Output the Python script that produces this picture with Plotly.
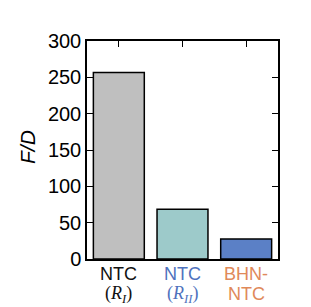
import plotly.graph_objects as go

categories = ["NTC (RI)", "NTC (RII)", "BHN-NTC"]
values = [256.5, 68.5, 27.5]
bar_colors = ["#bfbfbf", "#9dcaca", "#5b80c6"]
label_colors = ["#111111", "#4f72bd", "#e0895a"]
label_line1 = ["NTC", "NTC", "BHN-"]
label_line2 = [
    "<span style='font-family:Liberation Serif'>(<i>R</i><sub><i>I</i></sub>)</span>",
    "<span style='font-family:Liberation Serif'>(<i>R</i><sub><i>II</i></sub>)</span>",
    "NTC",
]
y_ticks = [0, 50, 100, 150, 200, 250, 300]

fig = go.Figure(go.Bar(
    x=categories, y=values,
    marker=dict(color=bar_colors, line=dict(color="black", width=1.5)),
    width=0.8,
))

for cat, l1, l2, col in zip(categories, label_line1, label_line2, label_colors):
    fig.add_annotation(x=cat, xref="x", y=0, yref="paper", text=l1,
                       showarrow=False, yanchor="middle", yshift=-15, borderpad=0,
                       font=dict(size=18, color=col))
    fig.add_annotation(x=cat, xref="x", y=0, yref="paper", text=l2,
                       showarrow=False, yanchor="middle", yshift=-35, borderpad=0,
                       font=dict(size=18, color=col))

fig.add_annotation(x=0, xref="paper", y=0.5, yref="paper", text="<i>F/D</i>",
                   showarrow=False, textangle=-90, xanchor="center", yanchor="middle",
                   xshift=-60, yshift=3, font=dict(size=21, color="black"))

fig.update_layout(
    width=311, height=307,
    margin=dict(l=87, r=33, t=41, b=48),
    paper_bgcolor="white", plot_bgcolor="white",
    showlegend=False,
    font=dict(family="Liberation Sans, Arial", size=20, color="black"),
)
fig.update_xaxes(
    tickmode="array", tickvals=categories, showticklabels=False,
    showline=True, linecolor="black", linewidth=1.5, mirror="ticks",
    ticks="inside", ticklen=6, tickcolor="black",
    range=[-0.5, 2.5], layer="below traces", automargin=False,
)
fig.update_yaxes(
    tickvals=y_ticks, range=[0, 300],
    showline=True, linecolor="black", linewidth=1.5, mirror="ticks",
    ticks="inside", ticklen=6, tickcolor="black",
    showgrid=False, zeroline=False, automargin=False,
    tickfont=dict(size=20),
)

fig.write_html("out.html")
